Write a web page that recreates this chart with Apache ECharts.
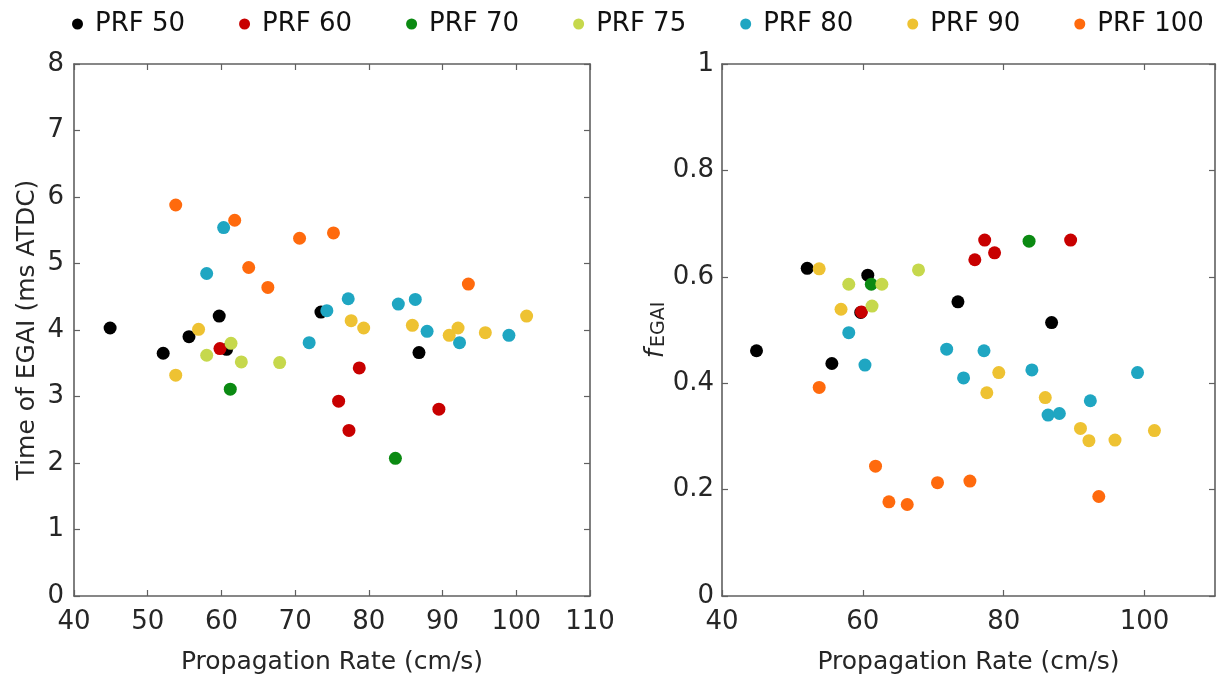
<!DOCTYPE html>
<html>
<head>
<meta charset="utf-8">
<style>
  html, body { margin: 0; padding: 0; background: #ffffff; }
  #chart { width: 1225px; height: 681px; }
</style>
<script src="https://cdn.jsdelivr.net/npm/echarts@6/dist/echarts.min.js"></script>
</head>
<body>
<div id="chart"></div>
<script>
// Propagation rate (cm/s), time of EGAI (ms ATDC) and EGAI fraction per PRF group
const prfNames = ['PRF 50', 'PRF 60', 'PRF 70', 'PRF 75', 'PRF 80', 'PRF 90', 'PRF 100'];
const prfColors = ['#000000', '#c80000', '#0b8a12', '#c6d84c', '#1fa6c2', '#eec232', '#ff6a0d'];

const prf50Rate = [44.9, 52.1, 55.6, 59.7, 60.7, 73.5, 86.8];
const prf50Time = [4.03, 3.65, 3.90, 4.21, 3.71, 4.27, 3.66];
const prf50Frac = [0.461, 0.616, 0.437, 0.533, 0.603, 0.553, 0.514];

const prf60Rate = [59.8, 75.9, 77.3, 78.7, 89.5];
const prf60Time = [3.72, 2.93, 2.49, 3.43, 2.81];
const prf60Frac = [0.534, 0.632, 0.669, 0.645, 0.669];

const prf70Rate = [61.2, 83.6];
const prf70Time = [3.11, 2.07];
const prf70Frac = [0.586, 0.667];

const prf75Rate = [58.0, 61.3, 62.7, 67.9];
const prf75Time = [3.62, 3.80, 3.52, 3.51];
const prf75Frac = [0.586, 0.545, 0.586, 0.613];

const prf80Rate = [58.0, 60.3, 71.9, 74.3, 77.2, 84.0, 86.3, 87.9, 92.3, 99.0];
const prf80Time = [4.85, 5.54, 3.81, 4.29, 4.47, 4.39, 4.46, 3.98, 3.81, 3.92];
const prf80Frac = [0.495, 0.434, 0.464, 0.410, 0.461, 0.425, 0.340, 0.343, 0.367, 0.420];

const prf90Rate = [53.8, 56.9, 77.6, 79.3, 85.9, 90.9, 92.1, 95.8, 101.4];
const prf90Time = [3.32, 4.01, 4.14, 4.03, 4.07, 3.92, 4.03, 3.96, 4.21];
const prf90Frac = [0.615, 0.539, 0.382, 0.420, 0.373, 0.315, 0.292, 0.293, 0.311];

const prf100Rate = [53.8, 61.8, 63.7, 66.3, 70.6, 75.2, 93.5];
const prf100Time = [5.88, 5.65, 4.94, 4.64, 5.38, 5.46, 4.69];
const prf100Frac = [0.392, 0.244, 0.177, 0.172, 0.213, 0.216, 0.187];

const groups = [
  [prf50Rate, prf50Time, prf50Frac],
  [prf60Rate, prf60Time, prf60Frac],
  [prf70Rate, prf70Time, prf70Frac],
  [prf75Rate, prf75Time, prf75Frac],
  [prf80Rate, prf80Time, prf80Frac],
  [prf90Rate, prf90Time, prf90Frac],
  [prf100Rate, prf100Time, prf100Frac]
];

const FONT = 'DejaVu Sans';
const TEXT = '#262626';
const AXIS = '#606060';

// Value axis drawn as one side of a closed box with inward ticks
function boxAxis(opts) {
  return Object.assign({
    type: 'value',
    axisLine: { show: true, onZero: false, lineStyle: { color: AXIS, width: 1.6 } },
    axisTick: { show: true, inside: true, length: 6, lineStyle: { color: AXIS, width: 1.2 } },
    splitLine: { show: false },
    axisLabel: { show: false }
  }, opts);
}

const labelStyle = { show: true, color: TEXT, fontFamily: FONT, fontSize: 26 };
const nameStyle = { color: TEXT, fontFamily: FONT, fontSize: 25 };

const xAxes = [
  boxAxis({ gridIndex: 0, position: 'bottom', min: 40, max: 110, interval: 10,
    axisLabel: Object.assign({ margin: 13 }, labelStyle),
    name: 'Propagation Rate (cm/s)', nameLocation: 'middle', nameGap: 54,
    nameTextStyle: nameStyle }),
  boxAxis({ gridIndex: 0, position: 'top', min: 40, max: 110, interval: 10 }),
  boxAxis({ gridIndex: 1, position: 'bottom', min: 40, max: 110, interval: 20,
    axisLabel: Object.assign({ margin: 13, showMaxLabel: false }, labelStyle),
    name: 'Propagation Rate (cm/s)', nameLocation: 'middle', nameGap: 54,
    nameTextStyle: nameStyle }),
  boxAxis({ gridIndex: 1, position: 'top', min: 40, max: 110, interval: 20 })
];

const yAxes = [
  boxAxis({ gridIndex: 0, position: 'left', min: 0, max: 8, interval: 1,
    axisLabel: Object.assign({ margin: 10 }, labelStyle),
    name: 'Time of EGAI (ms ATDC)', nameLocation: 'middle', nameGap: 34, nameRotate: 90,
    nameTextStyle: nameStyle }),
  boxAxis({ gridIndex: 0, position: 'right', min: 0, max: 8, interval: 1 }),
  boxAxis({ gridIndex: 1, position: 'left', min: 0, max: 1, interval: 0.2,
    axisLabel: Object.assign({ margin: 8 }, labelStyle),
    name: '{f|f}{s|EGAI}', nameLocation: 'middle', nameGap: 10, nameRotate: 90,
    nameTextStyle: {
      color: TEXT, fontFamily: FONT,
      rich: {
        f: { fontSize: 26, fontStyle: 'italic', fontFamily: FONT, color: TEXT, verticalAlign: 'top', lineHeight: 26 },
        s: { fontSize: 19, fontFamily: FONT, color: TEXT, verticalAlign: 'bottom', lineHeight: 19, padding: [13, 0, 0, 2] }
      }
    } }),
  boxAxis({ gridIndex: 1, position: 'right', min: 0, max: 1, interval: 0.2 })
];

const series = [];
groups.forEach(function (g, i) {
  const rate = g[0], time = g[1], frac = g[2];
  series.push({
    name: prfNames[i], type: 'scatter', xAxisIndex: 0, yAxisIndex: 0,
    symbol: 'circle', symbolSize: 13,
    itemStyle: { color: prfColors[i], opacity: 1 },
    data: rate.map(function (r, k) { return [r, time[k]]; })
  });
  series.push({
    name: prfNames[i], type: 'scatter', xAxisIndex: 2, yAxisIndex: 2,
    symbol: 'circle', symbolSize: 13,
    itemStyle: { color: prfColors[i], opacity: 1 },
    data: rate.map(function (r, k) { return [r, frac[k]]; })
  });
});

const chart = echarts.init(document.getElementById('chart'), null, { renderer: 'canvas' });
chart.setOption({
  animation: false,
  backgroundColor: '#ffffff',
  color: prfColors,
  legend: {
    data: prfNames,
    top: 6, left: 67,
    icon: 'circle', itemWidth: 11, itemHeight: 11, itemGap: 54,
    textStyle: { color: '#111111', fontFamily: FONT, fontSize: 26, padding: [0, 0, 0, 7] }
  },
  grid: [
    { left: 74, top: 64, width: 516, height: 532 },
    { left: 722, top: 64, width: 493, height: 532 }
  ],
  xAxis: xAxes,
  yAxis: yAxes,
  series: series
});
</script>
</body>
</html>
